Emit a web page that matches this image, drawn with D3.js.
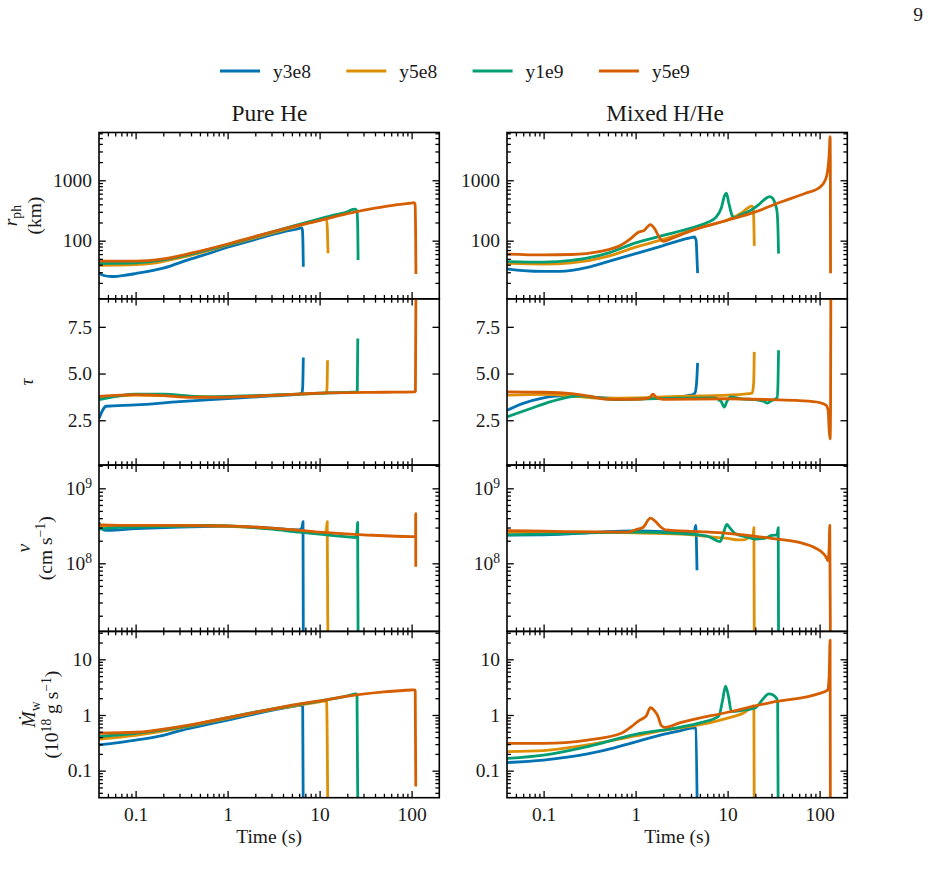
<!DOCTYPE html>
<html>
<head>
<meta charset="utf-8">
<script src="https://cdn.jsdelivr.net/npm/d3@7"></script>
<style>
  html, body { margin: 0; padding: 0; background: #fff; }
  svg text { font-family: "Liberation Serif", "DejaVu Serif", serif; fill: #1a1a1a; }
</style>
</head>
<body>
<svg id="chart" width="942" height="884"></svg>
<script>
// series order everywhere: y3e8, y5e8, y1e9, y5e9
const seriesNames = ["y3e8", "y5e8", "y1e9", "y5e9"];
const seriesColors = ["#0173b2", "#de8f05", "#029e73", "#d55e00"];
const columnTitles = ["Pure He", "Mixed H/He"];
const timeTicks = [0.1, 1, 10, 100];
const timeTickLabels = ["0.1", "1", "10", "100"];

// photospheric radius (km) vs time (s)
const rphHe = [
  [[0.04,29],[0.045,26.5],[0.055,25.5],[0.08,27],[0.1,28.5],[0.2,35],[0.4,50],[0.7,65],[1,78],[2,105],[4,140],[6,160],[6.35,164],[6.5,150],[6.6,80],[6.65,37]],
  [[0.04,39],[0.1,40],[0.15,42],[0.3,52],[0.5,63],[1,84],[2,112],[5,165],[8,200],[11.5,226],[11.9,224],[12.15,150],[12.35,62]],
  [[0.04,42],[0.1,43],[0.2,48],[0.4,60],[1,86],[2,116],[5,172],[10,230],[15,270],[20,300],[23,330],[24.5,332],[25.5,310],[26,150],[26.2,48]],
  [[0.04,46],[0.1,46],[0.2,50],[0.4,62],[1,88],[2,118],[5,170],[10,215],[20,280],[40,345],[70,395],[100,420],[106,425],[109,405],[110.5,150],[111.5,28]]
];
const rphMix = [
  [[0.04,34],[0.06,32],[0.1,31],[0.15,31],[0.3,36],[0.5,45],[1,61],[2,83],[3,100],[4,112],[4.35,115],[4.55,100],[4.65,50],[4.72,29]],
  [[0.04,42],[0.1,41],[0.2,43],[0.5,55],[1,78],[2,105],[5,165],[10,222],[14,285],[16.5,345],[18,372],[18.8,368],[19.2,250],[19.5,82]],
  [[0.04,45],[0.1,44],[0.2,47],[0.5,62],[1,92],[2,122],[4,162],[6,200],[7.5,245],[8.5,340],[9.3,560],[9.7,610],[10.3,420],[11.2,260],[11.8,240],[14,270],[18,320],[22,400],[26,500],[28.5,535],[31,500],[33,400],[34.5,300],[35.3,150],[35.8,61]],
  [[0.04,60],[0.1,58],[0.2,59],[0.4,66],[0.7,85],[0.9,110],[1.05,135],[1.25,150],[1.45,185],[1.6,160],[1.8,115],[2,97],[2.5,110],[4,145],[10,218],[20,300],[40,450],[70,610],[100,760],[115,1000],[122,1400],[127,2600],[130,5300],[130.8,2000],[131.5,29]]
];

// optical depth tau vs time
const tauHe = [
  [[0.04,2.6],[0.048,3.25],[0.1,3.32],[0.3,3.5],[1,3.66],[3,3.8],[6,3.9],[6.45,3.98],[6.55,4.3],[6.65,5.86]],
  [[0.04,3.7],[0.1,3.85],[0.3,3.8],[1,3.75],[5,3.88],[11.5,3.95],[12.0,4.1],[12.2,5.71]],
  [[0.04,3.6],[0.1,3.9],[0.2,3.9],[0.5,3.75],[1,3.78],[5,3.88],[10,3.95],[25,4.02],[25.7,4.1],[26,6.87]],
  [[0.04,3.78],[0.1,3.87],[0.2,3.82],[0.4,3.72],[1,3.74],[5,3.88],[10,3.95],[50,4.0],[108,4.02],[110,4.05],[111.5,9.5]]
];
const tauMix = [
  [[0.04,3.03],[0.06,3.4],[0.1,3.7],[0.15,3.8],[0.3,3.75],[0.5,3.68],[1,3.65],[2,3.7],[4,3.85],[4.4,3.95],[4.6,4.5],[4.72,5.57]],
  [[0.04,3.84],[0.1,3.88],[0.2,3.8],[0.4,3.68],[1,3.7],[2,3.75],[5,3.8],[10,3.85],[15,3.9],[18.5,3.95],[19.2,4.5],[19.5,6.16]],
  [[0.04,2.68],[0.07,3.1],[0.12,3.5],[0.25,3.8],[0.4,3.7],[0.6,3.6],[1,3.63],[3,3.68],[7,3.7],[8.5,3.5],[9.2,3.2],[9.8,3.5],[10.8,3.75],[14,3.65],[20,3.6],[25,3.5],[27,3.42],[30,3.55],[34.5,3.7],[35.3,4.5],[35.8,6.25]],
  [[0.04,4.02],[0.1,4.0],[0.2,3.92],[0.3,3.8],[0.5,3.62],[1,3.62],[1.4,3.7],[1.55,3.9],[1.7,3.7],[2,3.62],[10,3.65],[30,3.6],[60,3.55],[100,3.45],[118,3.3],[124,3.0],[127,2.0],[130,1.5],[131.5,3],[132.5,9.5]]
];

// wind velocity (cm/s) vs time
const velHe = [
  [[0.04,3.5e8],[0.045,2.8e8],[0.05,2.75e8],[0.1,2.9e8],[0.3,3.05e8],[1,3.1e8],[3,2.95e8],[6,2.8e8],[6.45,3.0e8],[6.6,3.6e8],[6.65,1e7]],
  [[0.04,3.15e8],[0.1,3.1e8],[0.5,3.15e8],[1,3.12e8],[3,2.9e8],[6,2.75e8],[11,2.55e8],[11.8,2.7e8],[12.1,3.6e8],[12.3,1e7]],
  [[0.04,2.85e8],[0.06,3.0e8],[0.2,3.1e8],[0.6,3.2e8],[1,3.15e8],[3,2.85e8],[6,2.6e8],[10,2.45e8],[20,2.25e8],[24.5,2.2e8],[25.6,2.8e8],[25.9,3.5e8],[26.2,1e7]],
  [[0.04,3.25e8],[0.1,3.2e8],[0.3,3.2e8],[1,3.15e8],[3,2.95e8],[6,2.75e8],[10,2.6e8],[30,2.4e8],[100,2.27e8],[110.5,2.28e8],[110.8,4.6e8],[111,9e7]]
];
const velMix = [
  [[0.04,2.38e8],[0.1,2.4e8],[0.3,2.55e8],[0.5,2.65e8],[1,2.7e8],[2,2.65e8],[4,2.5e8],[4.3,2.45e8],[4.5,3.2e8],[4.65,8.1e7]],
  [[0.04,2.6e8],[0.1,2.6e8],[0.3,2.6e8],[1,2.55e8],[3,2.45e8],[5,2.35e8],[8,2.2e8],[10,2.15e8],[13,2.05e8],[15,2.05e8],[17,2.2e8],[19,2.4e8],[19.3,3.0e8],[19.5,1e7]],
  [[0.04,2.4e8],[0.1,2.45e8],[0.3,2.55e8],[1,2.6e8],[3,2.5e8],[6,2.3e8],[8.3,1.95e8],[9,2.5e8],[9.8,3.3e8],[10.5,3.0e8],[12,2.5e8],[16,2.25e8],[20,2.1e8],[25,2.15e8],[30,2.35e8],[34.5,2.4e8],[35.5,3.0e8],[35.8,1e7]],
  [[0.04,2.72e8],[0.1,2.68e8],[0.3,2.62e8],[0.8,2.6e8],[1.0,2.8e8],[1.2,3.0e8],[1.45,4.0e8],[1.65,3.6e8],[1.85,3.1e8],[2.1,2.8e8],[5,2.65e8],[10,2.51e8],[30,2.15e8],[60,1.9e8],[90,1.6e8],[110,1.35e8],[118,1.2e8],[123,1.08e8],[127,1.6e8],[129,3.2e8],[131,1e7]]
];

// mass loss rate (1e18 g/s) vs time
const mdotHe = [
  [[0.04,0.29],[0.1,0.355],[0.2,0.43],[0.3,0.52],[0.5,0.63],[1,0.81],[2,1.05],[5,1.41],[6.4,1.5],[6.55,1.4],[6.65,0.01]],
  [[0.04,0.37],[0.1,0.43],[0.3,0.58],[1,0.87],[3,1.25],[6,1.5],[10,1.72],[11.9,1.8],[12.3,0.01]],
  [[0.04,0.41],[0.1,0.47],[0.3,0.6],[1,0.9],[3,1.28],[6,1.55],[10,1.78],[20,2.2],[25,2.4],[25.5,2.3],[26.1,0.01]],
  [[0.04,0.47],[0.1,0.49],[0.3,0.62],[1,0.9],[3,1.27],[5,1.5],[10,1.8],[25,2.29],[50,2.6],[100,2.81],[108,2.82],[109.5,2.7],[111,0.052]]
];
const mdotMix = [
  [[0.04,0.14],[0.1,0.155],[0.3,0.2],[0.6,0.26],[1,0.33],[2,0.45],[3,0.52],[4.3,0.59],[4.5,0.57],[4.7,0.01]],
  [[0.04,0.22],[0.1,0.23],[0.3,0.29],[1,0.42],[2,0.53],[5,0.67],[10,0.88],[15,1.1],[18,1.35],[19,1.45],[19.3,1.3],[19.5,0.01]],
  [[0.04,0.166],[0.1,0.19],[0.3,0.27],[1,0.45],[3,0.6],[5,0.72],[8,0.95],[8.8,1.8],[9.5,3.3],[10.2,2.2],[11,1.15],[14,1.2],[20,1.35],[24,1.9],[28,2.4],[31,2.3],[34,2.0],[35,1.7],[35.5,0.01]],
  [[0.04,0.31],[0.1,0.31],[0.3,0.355],[0.7,0.47],[0.9,0.62],[1.1,0.8],[1.3,0.95],[1.45,1.35],[1.6,1.2],[1.75,0.95],[1.9,0.65],[2.1,0.6],[3,0.72],[10,1.12],[30,1.69],[100,2.45],[122,2.8],[127,5],[130,22],[131,0.01]]
];

const fontSize = 19.5;
const titleSize = 23.4;
const colLeft = [99, 507];
const titleX = [269.5, 665];
const panelW = 340.3;
const rowTop = [132.5, 298.8, 465.1, 631.4];
const panelH = 166.3;
const majorLen = 6.8, minorLen = 3.9;

const svg = d3.select("#chart");

const x = d3.scaleLog().domain([0.04, 200]).range([0, panelW]);

function logMinors(domain) {
  const out = [];
  const lo = Math.floor(Math.log10(domain[0])), hi = Math.ceil(Math.log10(domain[1]));
  for (let e = lo; e <= hi; e++) {
    for (let k = 2; k <= 9; k++) {
      const v = k * Math.pow(10, e);
      if (v > domain[0] * 1.0001 && v < domain[1] * 0.9999) out.push(v);
    }
  }
  return out;
}

// rich text: parts like {t, i (italic), sub, sup}
function addRich(text, parts) {
  let shift = 0;
  parts.forEach(p => {
    const ts = text.append("tspan").text(p.t);
    let target = 0;
    if (p.sub) target = 4.5;
    if (p.sup) target = -7;
    if (p.sub || p.sup) ts.attr("font-size", fontSize * 0.7);
    if (target !== shift) { ts.attr("dy", target - shift); shift = target; }
    if (p.i) ts.attr("font-style", "italic");
  });
}

const rows = [
  { data: [rphHe, rphMix], y: d3.scaleLog().domain([10.9, 6180]), ticks: [100, 1000],
    fmt: d => String(d), minor: true,
    label: [{ x: 16.5, parts: [{ t: "r", i: true }, { t: "ph", sub: true }] },
            { x: 41, parts: [{ t: "(km)" }] }] },
  { data: [tauHe, tauMix], y: d3.scaleLinear().domain([0.1, 9.0]), ticks: [2.5, 5, 7.5],
    fmt: d3.format(".1f"), minor: false,
    label: [{ x: 33, parts: [{ t: "τ", i: true }] }] },
  { data: [velHe, velMix], y: d3.scaleLog().domain([1.236e7, 2.04e9]), ticks: [1e8, 1e9],
    fmt: d => "10", sup: true, minor: true,
    label: [{ x: 29.5, parts: [{ t: "v", i: true }] },
            { x: 51.5, parts: [{ t: "(cm s" }, { t: "−1", sup: true }, { t: ")" }] }] },
  { data: [mdotHe, mdotMix], y: d3.scaleLog().domain([0.0327, 31.7]), ticks: [0.1, 1, 10],
    fmt: d => (d < 1 ? "0.1" : String(d)), minor: true,
    label: [{ x: 35, parts: [{ t: "Ṁ", i: true }, { t: "w", sub: true }] },
            { x: 58, parts: [{ t: "(10" }, { t: "18", sup: true }, { t: " g s" }, { t: "−1", sup: true }, { t: ")" }] }] }
];

const defs = svg.append("defs");
defs.append("clipPath").attr("id", "panel-clip")
  .append("rect").attr("width", panelW).attr("height", panelH);

function styleAxis(g) {
  g.select(".domain").remove();
  g.attr("font-size", fontSize).attr("font-family", null).attr("color", "#000");
  g.selectAll(".tick line").attr("stroke-width", 1.3);
}

rows.forEach((row, r) => {
  const y = row.y.copy().range([panelH, 0]);
  const yMinors = row.minor ? logMinors(y.domain()) : [];
  const xMinors = logMinors(x.domain());

  [0, 1].forEach(c => {
    const g = svg.append("g").attr("transform", `translate(${colLeft[c]},${rowTop[r]})`);

    const line = d3.line()
      .x(d => x(d[0]))
      .y(d => y(d[1]))
      .curve(d3.curveMonotoneX);

    g.append("g").attr("clip-path", "url(#panel-clip)")
      .selectAll("path")
      .data(row.data[c])
      .enter()
      .append("path")
      .attr("d", line)
      .attr("fill", "none")
      .attr("stroke", (d, i) => seriesColors[i])
      .attr("stroke-width", 2.8)
      .attr("stroke-linejoin", "round");

    // x ticks bottom and top (inward)
    const isBottom = r === rows.length - 1;
    const xb = g.append("g").attr("transform", `translate(0,${panelH})`)
      .call(d3.axisBottom(x).tickValues(timeTicks).tickSize(-majorLen).tickSizeOuter(0).tickPadding(9)
        .tickFormat((d, i) => isBottom ? timeTickLabels[i] : ""));
    styleAxis(xb);
    const xbm = g.append("g").attr("transform", `translate(0,${panelH})`)
      .call(d3.axisBottom(x).tickValues(xMinors).tickSize(-minorLen).tickSizeOuter(0).tickFormat(""));
    styleAxis(xbm);
    const xt = g.append("g")
      .call(d3.axisTop(x).tickValues(timeTicks).tickSize(-majorLen).tickSizeOuter(0).tickFormat(""));
    styleAxis(xt);
    const xtm = g.append("g")
      .call(d3.axisTop(x).tickValues(xMinors).tickSize(-minorLen).tickSizeOuter(0).tickFormat(""));
    styleAxis(xtm);

    // y ticks left (with labels) and right
    const yl = g.append("g")
      .call(d3.axisLeft(y).tickValues(row.ticks).tickSize(-majorLen).tickSizeOuter(0).tickPadding(7).tickFormat(row.fmt));
    styleAxis(yl);
    if (row.sup) {
      yl.selectAll(".tick text").each(function (d) {
        const t = d3.select(this);
        t.text("");
        addRich(t, [{ t: "10" }, { t: String(Math.round(Math.log10(d))), sup: true }]);
      });
    }
    const ylm = g.append("g")
      .call(d3.axisLeft(y).tickValues(yMinors).tickSize(-minorLen).tickSizeOuter(0).tickFormat(""));
    styleAxis(ylm);
    const yr = g.append("g").attr("transform", `translate(${panelW},0)`)
      .call(d3.axisRight(y).tickValues(row.ticks).tickSize(-majorLen).tickSizeOuter(0).tickFormat(""));
    styleAxis(yr);
    const yrm = g.append("g").attr("transform", `translate(${panelW},0)`)
      .call(d3.axisRight(y).tickValues(yMinors).tickSize(-minorLen).tickSizeOuter(0).tickFormat(""));
    styleAxis(yrm);

    g.append("rect")
      .attr("width", panelW).attr("height", panelH)
      .attr("fill", "none").attr("stroke", "#000").attr("stroke-width", 1.6);

    if (isBottom) {
      g.append("text")
        .attr("x", panelW / 2).attr("y", panelH + 45.5)
        .attr("text-anchor", "middle").attr("font-size", fontSize)
        .text("Time (s)");
    }
    if (r === 0) {
      svg.append("text")
        .attr("x", titleX[c]).attr("y", rowTop[0] - 11.5)
        .attr("text-anchor", "middle").attr("font-size", titleSize)
        .text(columnTitles[c]);
    }
  });

  // y label (left column only)
  const yc = rowTop[r] + panelH / 2;
  row.label.forEach(l => {
    const t = svg.append("text")
      .attr("transform", `translate(${l.x},${yc}) rotate(-90)`)
      .attr("text-anchor", "middle")
      .attr("font-size", fontSize);
    addRich(t, l.parts);
  });
});

// legend
const legend = svg.append("g").attr("transform", "translate(220,71)");
const item = legend.selectAll("g")
  .data(seriesNames)
  .enter()
  .append("g")
  .attr("transform", (d, i) => `translate(${i * 126.3},0)`);
item.append("line")
  .attr("x1", 0).attr("x2", 40).attr("y1", 0).attr("y2", 0)
  .attr("stroke", (d, i) => seriesColors[i]).attr("stroke-width", 2.8);
item.append("text")
  .attr("x", 53).attr("y", 6.5)
  .attr("font-size", fontSize)
  .text(d => d);

// page number
svg.append("text")
  .attr("x", 918).attr("y", 21)
  .attr("text-anchor", "middle").attr("font-size", fontSize)
  .text("9");
</script>
</body>
</html>
